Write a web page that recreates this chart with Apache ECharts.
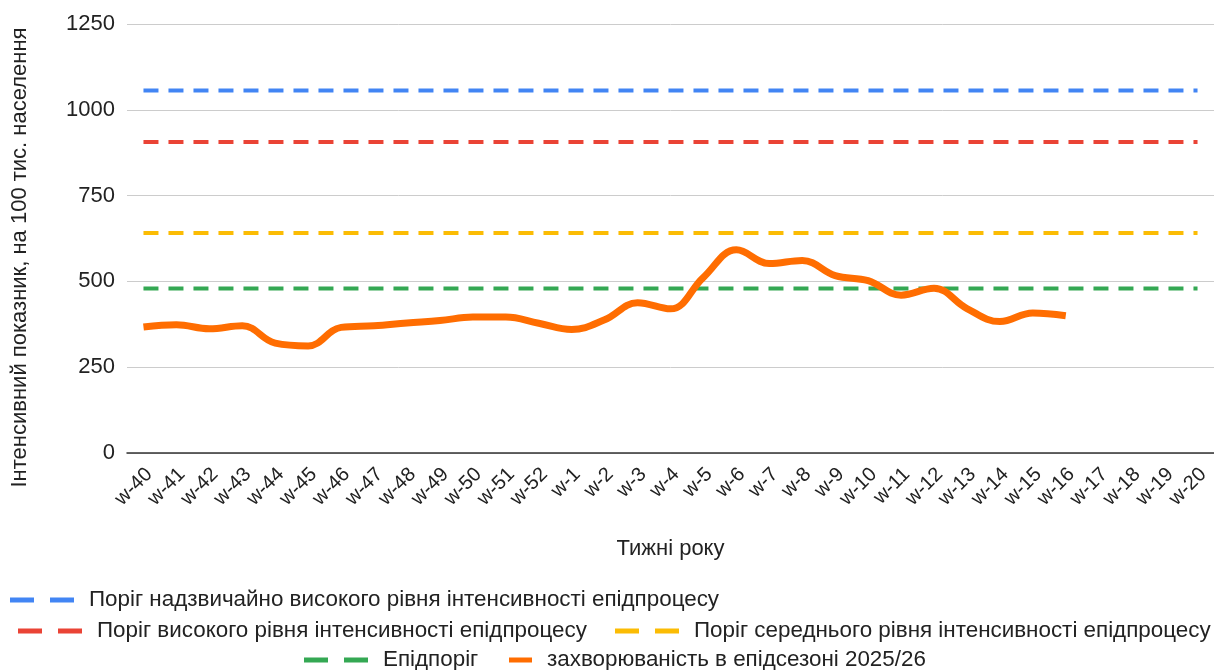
<!DOCTYPE html>
<html>
<head>
<meta charset="utf-8">
<script src="https://cdn.jsdelivr.net/npm/echarts@6/dist/echarts.min.js"></script>
<style>
html,body{margin:0;padding:0;background:#fff;}
#c{width:1214px;height:670px;}
</style>
</head>
<body>
<div id="c"></div>
<script>
const weeks = ['w-40','w-41','w-42','w-43','w-44','w-45','w-46','w-47','w-48','w-49','w-50','w-51','w-52',
  'w-1','w-2','w-3','w-4','w-5','w-6','w-7','w-8','w-9','w-10','w-11','w-12','w-13','w-14','w-15','w-16','w-17','w-18','w-19','w-20'];
const yTicks = [0, 250, 500, 750, 1000, 1250];
const veryHigh = [1056,1056,1056,1056,1056,1056,1056,1056,1056,1056,1056,1056,1056,1056,1056,1056,1056,1056,1056,1056,1056,1056,1056,1056,1056,1056,1056,1056,1056,1056,1056,1056,1056];
const high = [906,906,906,906,906,906,906,906,906,906,906,906,906,906,906,906,906,906,906,906,906,906,906,906,906,906,906,906,906,906,906,906,906];
const medium = [641,641,641,641,641,641,641,641,641,641,641,641,641,641,641,641,641,641,641,641,641,641,641,641,641,641,641,641,641,641,641,641,641];
const epi = [479,479,479,479,479,479,479,479,479,479,479,479,479,479,479,479,479,479,479,479,479,479,479,479,479,479,479,479,479,479,479,479,479];
const incidence = [367,374,362,371,320,312,366,371,379,386,396,396,378,360,388,438,420,512,592,552,561,517,502,460,480,421,383,408,400];

const names = [
  'Поріг надзвичайно високого рівня інтенсивності епідпроцесу',
  'Поріг високого рівня інтенсивності епідпроцесу',
  'Поріг середнього рівня інтенсивності епідпроцесу',
  'Епідпоріг',
  'захворюваність в епідсезоні 2025/26'
];
const colors = ['#4285F4','#EA4335','#FBBC04','#34A853','#FF6D01'];
const FONT = 'Liberation Sans, Arial, sans-serif';
const dashIcon = 'path://M0,0h24v5h-24zM40,0h24v5h-24z';
const soloIcon = 'path://M0,0h23v5h-23z';

function dashed(name, data, color){
  return {name, type:'line', data, symbol:'none', silent:true,
    lineStyle:{color, width:4, type:[15,10]}, itemStyle:{color}};
}
const legendText = {fontFamily:FONT, fontSize:22.4, color:'#222', padding:[0,0,0,10]};
function leg(name, left, top, icon, w){
  return {left, top, padding:0, itemWidth:w, itemHeight:5, icon, textStyle:legendText, data:[name], selectedMode:false};
}
const chart = echarts.init(document.getElementById('c'));
chart.setOption({
  animation:false,
  color: colors,
  textStyle:{fontFamily:FONT},
  grid:{left:127, right:0, top:24, bottom:217, containLabel:false},
  xAxis:{type:'category', data:weeks, boundaryGap:true,
    name:'Тижні року', nameLocation:'middle', nameGap:85,
    nameTextStyle:{fontFamily:FONT, fontSize:22, color:'#222'},
    axisLine:{lineStyle:{color:'#333', width:1.5}}, axisTick:{show:false},
    axisLabel:{rotate:45, interval:0, fontFamily:FONT, fontSize:20, color:'#222', margin:24, padding:[0,-8,0,0]}},
  yAxis:{type:'value', min:yTicks[0], max:yTicks[yTicks.length-1], interval:250,
    name:'Інтенсивний показник, на 100 тис. населення', nameLocation:'middle', nameGap:96,
    nameTextStyle:{fontFamily:FONT, fontSize:22, color:'#222', padding:[0,38,0,0]},
    axisLine:{show:false}, axisTick:{show:false},
    axisLabel:{fontFamily:FONT, fontSize:22, color:'#222', margin:12, formatter: v => String(v)},
    splitLine:{lineStyle:{color:'#cccccc', width:1}}},
  legend:[
    leg(names[0], 10, 589, dashIcon, 64),
    leg(names[1], 18, 620, dashIcon, 64),
    leg(names[2], 615, 620, dashIcon, 64),
    leg(names[3], 304, 649, dashIcon, 64),
    leg(names[4], 509, 649, soloIcon, 23)
  ],
  series:[
    dashed(names[0], veryHigh, colors[0]),
    dashed(names[1], high, colors[1]),
    dashed(names[2], medium, colors[2]),
    dashed(names[3], epi, colors[3]),
    {name:names[4], type:'line', data:incidence, symbol:'none', smooth:0.4,
      lineStyle:{color:colors[4], width:7}, itemStyle:{color:colors[4]}}
  ]
});
</script>
</body>
</html>
